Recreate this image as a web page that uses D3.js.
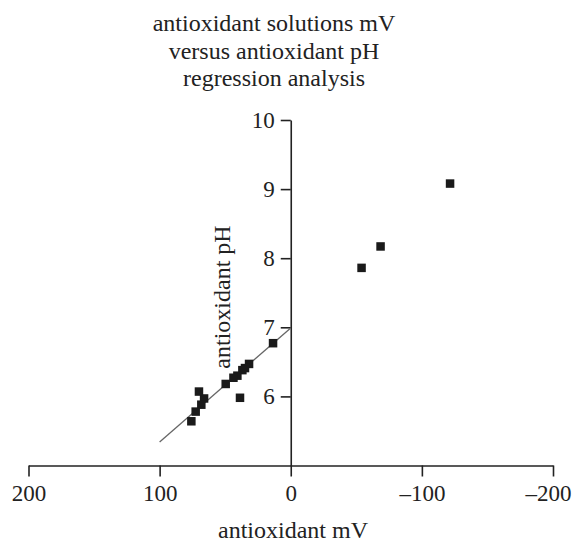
<!DOCTYPE html>
<html>
<head>
<meta charset="utf-8">
<script src="https://cdn.jsdelivr.net/npm/d3@7"></script>
<style>
  body { margin: 0; background: #fff; }
  svg text { font-family: "Liberation Serif", "DejaVu Serif", serif; fill: #222; }
</style>
</head>
<body>
<script>
// antioxidant mV vs pH
var mV = [-121.5, -68.5, -54, 13.5, 31.8, 34.9, 36.9, 40.7, 43.7, 49.6, 38.7, 66.1, 68.2, 70, 72.5, 75.8];
var pH = [9.08, 8.17, 7.86, 6.77, 6.47, 6.41, 6.38, 6.3, 6.27, 6.18, 5.98, 5.97, 5.88, 6.07, 5.78, 5.64];
// regression line ends
var lineMV = [100, 0];
var linePH = [5.34, 6.99];
var xTicks = [200, 100, 0, -100, -200];
var yTicks = [6, 7, 8, 9, 10];
var titel = ["antioxidant solutions mV", "versus antioxidant pH", "regression analysis"];

var w = 572, h = 544;
var svg = d3.select('body').append('svg')
    .attr('width', w)
    .attr('height', h);

var x = d3.scaleLinear().domain([200, -200]).range([28.5, 553]);
var y = d3.scaleLinear().domain([5, 10]).range([465.5, 120]);

var fmt = function(d){ return d3.format('d')(d).replace('−', '–') };

// titel
svg.append('g').selectAll('text')
    .data(titel)
    .enter()
    .append('text')
    .attr('x', 274)
    .attr('y', function(d, i){ return 31 + i * 27.5 })
    .attr('text-anchor', 'middle')
    .style('font-size', '24px')
    .text(function(d){ return d });

// x axis
var gx = svg.append('g')
    .attr('transform', 'translate(0,' + y(5) + ')')
    .call(d3.axisBottom(x).tickValues(xTicks).tickFormat(fmt).tickSize(11).tickSizeOuter(0).tickPadding(6));

// y axis sits at mV = 0
var gy = svg.append('g')
    .attr('transform', 'translate(' + x(0) + ',0)')
    .call(d3.axisLeft(y).tickValues(yTicks).tickFormat(fmt).tickSize(10).tickSizeOuter(0).tickPadding(6));

[gx, gy].forEach(function(g){
    g.attr('font-family', null).attr('font-size', null);
    g.selectAll('path, line').attr('stroke', '#222').attr('stroke-width', 1.6);
    g.selectAll('text').style('font-size', '23px').attr('fill', '#222');
});
gx.selectAll('text').attr('dy', '0.8em');
// last label sits against the right edge
gx.selectAll('.tick text').filter(function(d){ return d === -200 })
    .attr('text-anchor', 'end')
    .attr('dx', 18);

// axis labels
svg.append('text')
    .attr('x', 293)
    .attr('y', 538)
    .attr('text-anchor', 'middle')
    .style('font-size', '24px')
    .text('antioxidant mV');

svg.append('text')
    .attr('transform', 'translate(230,297) rotate(-90)')
    .attr('text-anchor', 'middle')
    .style('font-size', '24px')
    .text('antioxidant pH');

// regression line
svg.append('line')
    .attr('x1', x(lineMV[0])).attr('y1', y(linePH[0]))
    .attr('x2', x(lineMV[1])).attr('y2', y(linePH[1]))
    .attr('stroke', '#666')
    .attr('stroke-width', 1.3);

// points
var s = 8.5;
svg.selectAll('rect')
    .data(mV)
    .enter()
    .append('rect')
    .attr('x', function(d){ return x(d) - s / 2 })
    .attr('y', function(d, i){ return y(pH[i]) - s / 2 })
    .attr('width', s)
    .attr('height', s)
    .attr('fill', '#1a1a1a');
</script>
</body>
</html>
